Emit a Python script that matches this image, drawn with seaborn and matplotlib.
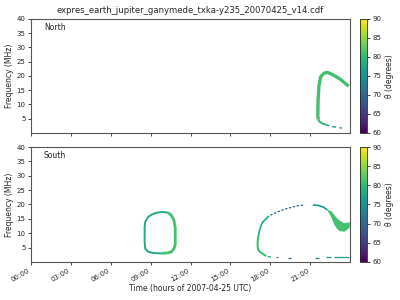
import numpy as np
import pandas as pd
import matplotlib
matplotlib.use("Agg")
import matplotlib.pyplot as plt
import seaborn as sns
from matplotlib.colors import Normalize
from matplotlib.cm import ScalarMappable

title = "expres_earth_jupiter_ganymede_txka-y235_20070425_v14.cdf"
xlabel = "Time (hours of 2007-04-25 UTC)"
ylabel = "Frequency (MHz)"
cbar_label = "θ (degrees)"
xticks = [0, 3, 6, 9, 12, 15, 18, 21]
xticklabels = ["00:00", "03:00", "06:00", "09:00", "12:00", "15:00", "18:00", "21:00"]
yticks = [5, 10, 15, 20, 25, 30, 35, 40]
cticks = [60, 65, 70, 75, 80, 85, 90]

# ---- North hemisphere segments: (time h, freq MHz)
north_up_t = [21.62, 21.58, 21.6, 21.66, 21.8, 22.05, 22.3, 22.67, 23.2, 23.9]
north_up_f = [4.7, 5.8, 11.7, 16.3, 19.8, 21.0, 21.3, 20.5, 19.1, 16.4]
north_low_t = [21.62, 21.7, 21.9, 22.2]
north_low_f = [4.7, 4.0, 3.4, 2.9]
north_d1_t = [22.2, 22.45]
north_d1_f = [2.8, 2.6]
north_d2_t = [22.65, 22.95]
north_d2_f = [2.2, 2.1]
north_d3_t = [23.2, 23.4]
north_d3_f = [1.8, 1.75]

# ---- South hemisphere segments
oval_left_t = [9.8, 9.2, 8.8, 8.6, 8.55, 8.55, 8.6, 8.8, 9.05, 9.4, 9.9, 10.3]
oval_left_f = [3.0, 3.1, 3.6, 4.6, 7.0, 12.3, 14.0, 15.6, 16.4, 17.1, 17.4, 17.2]
oval_right_t = [10.3, 10.55, 10.75, 10.85, 10.85, 10.75, 10.55, 10.2, 9.8]
oval_right_f = [17.2, 16.3, 14.6, 12.0, 6.0, 4.6, 3.5, 3.1, 3.0]

arc_top_t = [17.9, 17.4, 17.2, 17.1]
arc_top_f = [16.0, 13.7, 11.1, 9.0]
arc_left_t = [17.1, 17.05, 17.05, 17.1, 17.3, 17.7]
arc_left_f = [9.0, 7.1, 5.5, 4.2, 3.2, 2.1]
arc_blue_t = [18.0, 18.5, 19.0, 19.5, 20.0, 20.55]
arc_blue_f = [16.3, 17.3, 18.2, 18.9, 19.5, 19.8]
arc_teal_t = [21.2, 21.6, 22.0, 22.3]
arc_teal_f = [19.8, 19.7, 19.1, 18.1]
band_t = [22.3, 22.55, 22.8, 23.0, 23.2, 23.55, 23.9]
band_hi = [18.1, 17.6, 16.1, 15.0, 14.3, 13.4, 13.8]
band_lo = [18.1, 16.3, 13.4, 12.0, 11.1, 10.9, 12.3]
low_d1_t = [17.8, 18.05]
low_d1_f = [1.85, 1.8]
low_d2_t = [18.4, 18.55]
low_d2_f = [1.6, 1.6]
low_d3_t = [19.3, 19.55]
low_d3_f = [1.4, 1.4]
low_d4_t = [21.4, 21.7]
low_d4_f = [1.5, 1.5]
low_d5_t = [22.2, 22.55]
low_d5_f = [1.7, 1.7]
low_d6_t = [22.8, 23.9]
low_d6_f = [1.9, 1.9]

sns.set_theme(style="ticks")
plt.rcParams['font.family'] = ['DejaVu Sans']

cmap = plt.get_cmap("viridis")
norm = Normalize(60, 90)

fig = plt.figure(figsize=(4, 3), dpi=100)
ax1 = fig.add_axes([0.0775, 0.5567, 0.7975, 0.38])
ax2 = fig.add_axes([0.0775, 0.1267, 0.7975, 0.3833])
cax1 = fig.add_axes([0.901, 0.5567, 0.017, 0.38])
cax2 = fig.add_axes([0.901, 0.1267, 0.017, 0.3833])


def seg(ax, t, f, theta, lw, ls="-"):
    df = pd.DataFrame({"t": t, "f": f})
    sns.lineplot(data=df, x="t", y="f", ax=ax, sort=False, estimator=None,
                 color=cmap(norm(theta)), linewidth=lw, linestyle=ls,
                 solid_capstyle="butt")


seg(ax1, north_up_t, north_up_f, 81, 2.4)
seg(ax1, north_low_t, north_low_f, 80, 1.5)
for tt, ff in [(north_d1_t, north_d1_f), (north_d2_t, north_d2_f), (north_d3_t, north_d3_f)]:
    seg(ax1, tt, ff, 75, 1.0)

seg(ax2, oval_left_t, oval_left_f, 78, 1.4)
seg(ax2, oval_right_t, oval_right_f, 81, 2.0)
seg(ax2, arc_top_t, arc_top_f, 78, 1.2)
seg(ax2, arc_left_t, arc_left_f, 81, 1.5)
seg(ax2, arc_blue_t, arc_blue_f, 70, 0.9, ls=(0, (2, 1.2)))
seg(ax2, arc_teal_t, arc_teal_f, 76, 1.2)
ax2.fill_between(band_t, band_lo, band_hi, color=cmap(norm(81)), linewidth=0.8,
                 edgecolor=cmap(norm(81)))
for tt, ff, th in [(low_d1_t, low_d1_f, 77), (low_d2_t, low_d2_f, 72),
                   (low_d3_t, low_d3_f, 70), (low_d4_t, low_d4_f, 74),
                   (low_d5_t, low_d5_f, 75), (low_d6_t, low_d6_f, 76)]:
    seg(ax2, tt, ff, th, 0.9)

for ax, name in [(ax1, "North"), (ax2, "South")]:
    ax.set_xlim(0, 24)
    ax.set_ylim(0, 40)
    ax.set_xticks(xticks)
    ax.set_yticks(yticks)
    ax.set_ylabel(ylabel, fontsize=5.5, labelpad=2)
    ax.tick_params(labelsize=5, length=2.5, width=0.6, pad=1.5)
    for s in ax.spines.values():
        s.set_linewidth(0.8)
        s.set_color("#555555")
    ax.text(0.04, 0.9, name, transform=ax.transAxes, fontsize=5.5, color="#222222")

ax1.set_xticklabels([])
ax1.set_xlabel("")
ax2.set_xticklabels(xticklabels, rotation=30, ha="right")
ax2.set_xlabel(xlabel, fontsize=5.5, labelpad=1)
ax1.set_title(title, fontsize=6.1, pad=4)

for cax in [cax1, cax2]:
    cb = fig.colorbar(ScalarMappable(norm=norm, cmap=cmap), cax=cax)
    cb.set_ticks(cticks)
    cb.set_label(cbar_label, fontsize=5.5, labelpad=2)
    cb.ax.tick_params(labelsize=5, length=2.5, width=0.6, pad=1.5)
    cb.outline.set_linewidth(0.6)

fig.savefig("out.png", dpi=100)
